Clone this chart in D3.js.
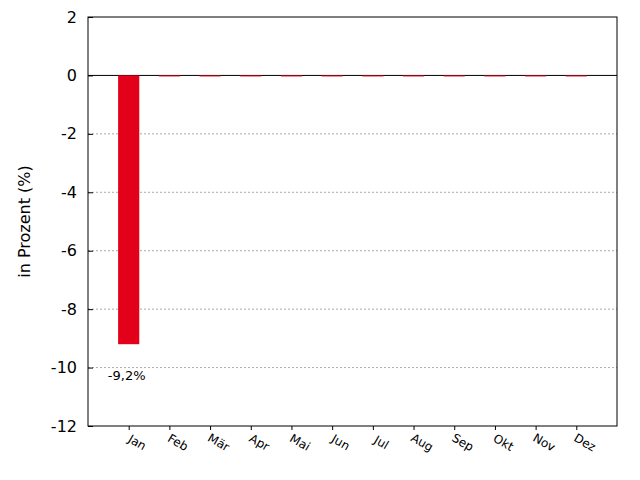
<!DOCTYPE html>
<html>
<head>
<meta charset="utf-8">
<script src="https://cdn.jsdelivr.net/npm/d3@7"></script>
<style>
  body { margin: 0; background: #fff; overflow: hidden; }
  svg { display: block; }
  text { font-family: "DejaVu Sans", sans-serif; fill: #000; }
</style>
</head>
<body>
<svg id="chart" width="640" height="480"></svg>
<script>
const months = ["Jan", "Feb", "Mär", "Apr", "Mai", "Jun", "Jul", "Aug", "Sep", "Okt", "Nov", "Dez"];
const values = [-9.2, 0, 0, 0, 0, 0, 0, 0, 0, 0, 0, 0];
const valueLabels = ["-9,2%"];
const yTicks = [2, 0, -2, -4, -6, -8, -10, -12];

const padding = {top: 17, right: 23, bottom: 54, left: 88};
const width = 640, height = 480;
const innerWidth = width - padding.left - padding.right;
const innerHeight = height - padding.top - padding.bottom;

const svg = d3.select("#chart");
const g = svg.append("g").attr("transform", `translate(${padding.left},${padding.top})`);

const x = d3.scaleLinear().domain([0, months.length + 1]).range([0, innerWidth]);
const y = d3.scaleLinear().domain([-12, 2]).range([innerHeight, 0]);
const barWidth = (x(1) - x(0)) * 0.52;

// grid lines
g.selectAll(".grid")
    .data(yTicks.filter(d => d < 0 && d > -12))
    .enter()
    .append("line")
    .attr("x1", 0).attr("x2", innerWidth)
    .attr("y1", d => y(d)).attr("y2", d => y(d))
    .attr("stroke", "#aaa")
    .attr("stroke-dasharray", "2,2")

// zero line
g.append("line")
    .attr("x1", 0).attr("x2", innerWidth)
    .attr("y1", y(0)).attr("y2", y(0))
    .attr("stroke", "#000")

// bars
g.selectAll(".bar")
    .data(values)
    .enter()
    .append("rect")
    .attr("class", "bar")
    .attr("x", (d, i) => x(i + 1) - barWidth / 2)
    .attr("y", d => y(Math.max(0, d)))
    .attr("width", barWidth)
    .attr("height", d => Math.max(1, Math.abs(y(d) - y(0))))
    .attr("fill", "#e2001a")

// value labels
g.selectAll(".vlabel")
    .data(valueLabels)
    .enter()
    .append("text")
    .attr("x", (d, i) => x(i + 1) - 2)
    .attr("y", (d, i) => y(values[i]) + 36)
    .attr("text-anchor", "middle")
    .style("font-size", "13px")
    .text(d => d)

// y axis
const yAxis = d3.axisLeft(y).tickValues(yTicks).tickSize(-5).tickPadding(11).tickFormat(d3.format("d"));
const ya = g.append("g").call(yAxis);
ya.selectAll("text").style("font-size", "16px").text(d => String(d).replace("−", "-"));
ya.select(".domain").remove();

// x axis
const xAxis = d3.axisBottom(x).tickValues(d3.range(1, months.length + 1)).tickSize(4).tickFormat(d => months[d - 1]);
const xa = g.append("g").attr("transform", `translate(0,${innerHeight})`).call(xAxis);
xa.select(".domain").remove();
xa.selectAll("text")
    .style("font-size", "12px")
    .attr("text-anchor", "middle")
    .attr("dy", 0)
    .attr("y", 0)
    .attr("transform", "translate(6,20) rotate(30)")

// frame
g.append("rect")
    .attr("width", innerWidth).attr("height", innerHeight)
    .attr("fill", "none").attr("stroke", "#000")

// y title
g.append("text")
    .attr("transform", `translate(${-58},${y(-5)}) rotate(-90)`)
    .attr("text-anchor", "middle")
    .style("font-size", "16px")
    .text("in Prozent (%)")
</script>
</body>
</html>
